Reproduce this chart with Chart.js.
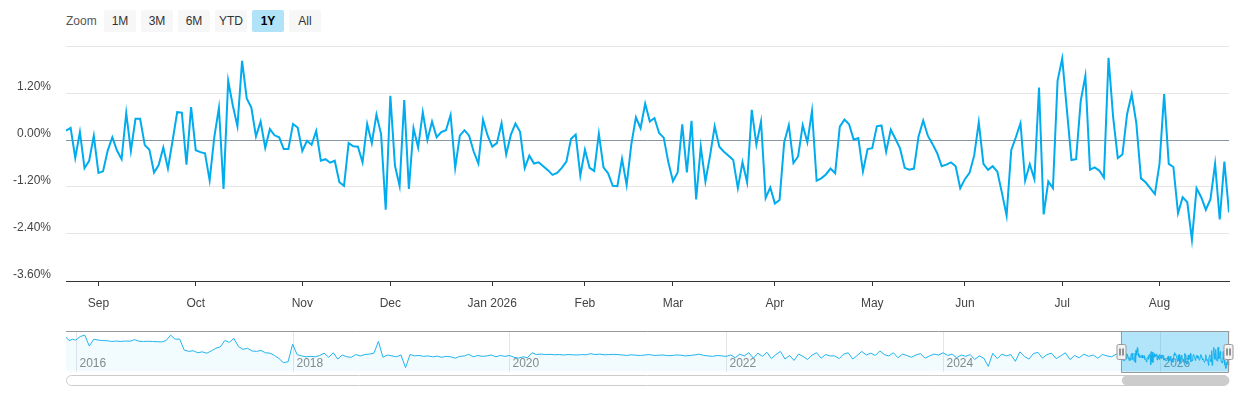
<!DOCTYPE html>
<html>
<head>
<meta charset="utf-8">
<script src="https://cdn.jsdelivr.net/npm/chart.js@4.4.1/dist/chart.umd.min.js"></script>
<style>
  body { margin: 0; background: #fff; font-family: 'Liberation Sans', Arial, sans-serif; }
  #wrap { position: relative; width: 1240px; height: 400px; overflow: hidden; }
  #mainChart { position: absolute; left: 0; top: 0; }
  #navChart { position: absolute; left: 60px; top: 325px; }
  .zoomLabel { position: absolute; left: 66px; top: 10px; line-height: 22px; font-size: 12px; color: #555; }
  .btn { position: absolute; top: 10px; width: 32px; height: 22px; line-height: 22px; text-align: center;
         font-size: 12px; color: #333; background: #f7f7f7; border-radius: 2px; }
  .btn.active { background: #b0e3f8; font-weight: bold; color: #000; }
</style>
</head>
<body>
<div id="wrap">
  <div class="zoomLabel">Zoom</div>
  <div class="btn" style="left:104px">1M</div>
  <div class="btn" style="left:141px">3M</div>
  <div class="btn" style="left:178px">6M</div>
  <div class="btn" style="left:215px">YTD</div>
  <div class="btn active" style="left:252px">1Y</div>
  <div class="btn" style="left:289px">All</div>
  <canvas id="mainChart" width="1240" height="320"></canvas>
  <canvas id="navChart" width="1180" height="65"></canvas>
</div>
<script>
// daily values (%), one array per month
const aug25 = [0.24, 0.31, -0.46, 0.20, -0.72, -0.53, 0.11];
const sep25 = [-0.84, -0.80, -0.27, 0.07, -0.27, -0.49, 0.69, -0.28, 0.54, 0.54, -0.13, -0.25, -0.83, -0.64, -0.19, -0.73, -0.02, 0.71, 0.70, -0.63, 0.84];
const oct25 = [-0.26, -0.31, -0.34, -1.03, 0.07, 0.82, -1.25, 1.51, 0.88, 0.35, 2.02, 1.06, 0.83, 0.09, 0.47, -0.20, 0.28, 0.12, 0.07, -0.23, -0.23, 0.41, 0.32];
const nov25 = [-0.28, -0.02, -0.12, 0.23, -0.53, -0.49, -0.58, -0.53, -1.08, -1.17, -0.08, -0.16, -0.17, -0.57, 0.41, -0.08, 0.65, 0.15, -1.78];
const dec25 = [1.13, -0.66, -1.17, 1.02, -1.25, 0.30, -0.19, 0.71, 0.00, 0.47, 0.07, 0.20, 0.25, 0.64, -0.71, 0.11, 0.25, 0.11, -0.30, -0.60, 0.52, 0.11];
const jan26 = [-0.17, -0.08, 0.43, -0.37, 0.13, 0.42, 0.21, -0.72, -0.40, -0.60, -0.57, -0.67, -0.77, -0.89, -0.84, -0.71, -0.55, 0.03, 0.14, -0.91];
const feb26 = [-0.25, -0.71, -0.79, 0.16, -0.70, -0.85, -1.17, -1.18, -0.48, -1.15, -0.12, 0.58, 0.30, 0.93, 0.47, 0.56, 0.18, 0.06, -0.57];
const mar26 = [-1.05, -0.83, 0.40, -0.83, 0.49, -1.52, -0.17, -1.06, -0.40, 0.35, -0.17, -0.30, -0.40, -0.51, -1.23, -0.57, -1.08, 0.77, -0.12, 0.47, -1.48, -1.21];
const apr26 = [-1.62, -1.53, -0.06, 0.38, -0.59, -0.42, 0.38, -0.06, 0.74, -1.04, -0.98, -0.88, -0.73, -0.85, 0.34, 0.52, 0.40, 0.01, 0.05, -0.80, -0.23];
const may26 = [-0.21, 0.35, 0.37, -0.30, 0.26, 0.03, -0.21, -0.71, -0.76, -0.73, 0.09, 0.50, 0.11, -0.10, -0.33, -0.67, -0.63, -0.57, -0.67, -1.23];
const jun26 = [-1.00, -0.84, -0.40, 0.45, -0.61, -0.76, -0.67, -0.81, -1.35, -1.93, -0.26, 0.07, 0.43, -1.04, -0.62, -1.00, 1.34, -1.90, -1.06, -1.23, 1.51];
const jul26 = [2.08, 0.79, -0.51, -0.49, 1.00, 1.64, -0.76, -0.70, -0.78, -0.96, 2.10, 0.58, -0.46, -0.37, 0.66, 1.17, 0.43, -0.98, -1.08, -1.23, -1.38];
const aug26 = [-0.61, 1.17, -0.61, -0.69, -1.87, -1.46, -1.59, -2.55, -1.23, -1.46, -1.78, -1.51, -0.61, -2.03, -0.55, -1.85];

const months = [aug25, sep25, oct25, nov25, dec25, jan26, feb26, mar26, apr26, may26, jun26, jul26, aug26];
const monthLabels = ['', 'Sep', 'Oct', 'Nov', 'Dec', 'Jan 2026', 'Feb', 'Mar', 'Apr', 'May', 'Jun', 'Jul', 'Aug'];
const yTickValues = [-3.6, -2.4, -1.2, 0, 1.2, 2.4];

// navigator: long history, roughly two readings per month
const nav2015 = [4.3, 3.6, 3.9];
const nav2016 = [3.7, 4.5, 4.8, 2.4, 3.9, 3.7, 3.6, 3.55, 3.4, 3.5, 3.4, 3.5, 3.45, 3.8, 3.45, 3.4, 3.45, 3.4, 3.35, 3.3, 3.6, 4.8, 3.9, 3.95];
const nav2017 = [1.5, 1.2, 1.35, 0.9, 1.1, 0.8, 1.3, 1.9, 2.2, 3.6, 3.2, 4.1, 2.3, 1.65, 1.9, 1.3, 1.2, 1.4, 0.9, 0.8, 0.3, -0.4, -1.3, -1.1];
const nav2018 = [2.8, 0.5, 0.2, 0.0, 0.1, 0.0, 0.3, 0.8, -0.1, 0.9, -0.5, 0.4, 0.0, -0.1, 0.5, 0.2, 0.5, 0.6, 0.8, 3.4, -0.1, 0.4, 0.2, 0.0];
const nav2019 = [0.4, -2.4, 0.5, 0.2, 0.3, 0.1, 0.2, 0.0, 0.15, -0.1, 0.1, 0.0, -0.3, 0.1, 0.2, 0.55, 0.0, 0.3, 0.1, 0.2, 0.4, 0.0, 0.3, 0.1];
const nav2020 = [0.3, -0.1, -0.3, 0.0, -0.2, 0.9, 0.5, 0.6, 0.5, 0.55, 0.45, 0.5, 0.4, 0.5, 0.45, 0.4, 0.5, 0.45, 0.7, 0.5, 0.6, 0.45, 0.5, 0.55];
const nav2021 = [0.5, 0.4, 0.3, 0.45, 0.35, 0.3, 0.4, 0.5, 0.3, 0.35, 0.4, 0.25, 0.3, 0.4, 0.35, 0.2, 0.3, 0.4, 0.6, 0.3, 0.2, 0.1, 0.3, 0.2];
const nav2022 = [0.1, 0.4, -0.2, 0.6, 0.2, 0.9, -0.3, 0.8, 0.1, 1.0, -0.4, 0.5, 1.2, -0.5, 0.3, -0.8, 0.6, 0.1, -0.6, 0.4, 0.9, -0.3, 0.5, 0.2];
const nav2023 = [0.2, -0.4, 0.6, 0.9, -0.5, 0.3, 1.2, 0.4, 0.8, 0.3, 1.3, 0.5, 0.2, 0.9, -0.2, 0.6, 0.3, -0.1, 0.4, 0.7, -0.3, 0.2, 0.6, 0.4];
const nav2024 = [0.9, 0.3, 0.6, -0.2, 0.4, 0.1, 0.5, -0.6, 0.2, -0.3, -2.1, 0.8, -0.4, 0.6, 0.2, 0.5, -1.0, 1.1, 0.1, -0.5, 0.7, 1.0, -0.3, 0.5];
const nav2025 = [0.8, -0.4, 0.2, 0.9, -0.6, 0.3, -0.2, 0.6, 0.1, 0.4, -0.3, 0.5, 0.2, 0.0, 0.6];
const navYearLabels = [2016, 2018, 2020, 2022, 2024, 2026];
const navStart = 2015.91, selStart = 2025.64, navEnd = 2026.64;

const FONT = "'Liberation Sans', Arial, sans-serif";

// ---- main chart
const values = months.flat();
const tickIdx = [];
const tickText = {};
let pos = 0;
months.forEach((m, i) => {
  if (monthLabels[i]) { tickIdx.push(pos); tickText[pos] = monthLabels[i]; }
  pos += m.length;
});
const points = values.map((v, i) => ({ x: i, y: v }));

new Chart(document.getElementById('mainChart'), {
  type: 'line',
  data: { datasets: [{ data: points, borderColor: '#00abee', borderWidth: 2, pointRadius: 0, tension: 0, fill: false }] },
  options: {
    responsive: false, animation: false, events: [],
    layout: { padding: { top: 46, right: 11, bottom: 0, left: 0 } },
    plugins: { legend: { display: false }, tooltip: { enabled: false } },
    scales: {
      x: {
        type: 'linear', min: 0, max: values.length - 1,
        afterBuildTicks: s => { s.ticks = tickIdx.map(v => ({ value: v })); },
        afterFit: s => { s.height = 39; },
        ticks: { autoSkip: false, maxRotation: 0, padding: 10, color: '#444', font: { family: FONT, size: 12 },
                 callback: v => tickText[v] || '' },
        grid: { drawOnChartArea: false, tickLength: 5, color: '#333' },
        border: { color: '#333', width: 1 }
      },
      y: {
        min: -3.6, max: 2.4,
        afterBuildTicks: s => { s.ticks = yTickValues.map(v => ({ value: v })); },
        afterFit: s => { s.width = 66; },
        ticks: { padding: 15, labelOffset: -6, color: '#444', font: { family: FONT, size: 12 },
                 callback: v => v === 2.4 ? '' : v.toFixed(2) + '%' },
        grid: { drawTicks: false, color: c => c.tick.value === 0 ? '#8a97a3' : '#e6e6e6' },
        border: { display: false }
      }
    }
  }
});

// ---- navigator
const navSegments = [
  [navStart, 2016, nav2015], [2016, 2017, nav2016], [2017, 2018, nav2017], [2018, 2019, nav2018],
  [2019, 2020, nav2019], [2020, 2021, nav2020], [2021, 2022, nav2021], [2022, 2023, nav2022],
  [2023, 2024, nav2023], [2024, 2025, nav2024], [2025, selStart, nav2025]
];
const navPoints = [];
navSegments.forEach(([a, b, arr]) => arr.forEach((v, i) => navPoints.push({ x: a + (b - a) * i / arr.length, y: v })));
values.forEach((v, i) => navPoints.push({ x: selStart + (navEnd - selStart) * i / (values.length - 1), y: v }));

const navDecor = {
  id: 'navDecor',
  beforeDatasetsDraw(chart) {
    const { ctx, chartArea: a, scales: { x } } = chart;
    ctx.save();
    ctx.strokeStyle = '#e6e6e6'; ctx.lineWidth = 1;
    ctx.fillStyle = '#888'; ctx.font = '12px ' + FONT; ctx.textBaseline = 'middle';
    navYearLabels.forEach(yr => {
      const px = Math.round(x.getPixelForValue(yr)) + 0.5;
      ctx.beginPath(); ctx.moveTo(px, a.top); ctx.lineTo(px, a.bottom); ctx.stroke();
      ctx.fillText(String(yr), px + 3, a.top + 32.5);
    });
    ctx.restore();
  },
  afterDatasetsDraw(chart) {
    const { ctx, chartArea: a, scales: { x } } = chart;
    const l = x.getPixelForValue(selStart), r = x.getPixelForValue(navEnd);
    ctx.save();
    ctx.fillStyle = 'rgba(0,170,238,0.3)';
    ctx.fillRect(l, a.top, r - l, a.bottom - a.top);
    ctx.strokeStyle = '#999'; ctx.lineWidth = 1;
    const t = Math.round(a.top) + 0.5, b = Math.round(a.bottom) + 0.5;
    const lx = Math.round(l) + 0.5, rx = Math.round(r) - 0.5;
    ctx.beginPath();
    ctx.moveTo(a.left, t); ctx.lineTo(a.right, t);
    ctx.moveTo(lx, t); ctx.lineTo(lx, b); ctx.lineTo(rx, b); ctx.lineTo(rx, t);
    ctx.stroke();
    // handles
    [lx, rx].forEach(hx => {
      ctx.fillStyle = '#f2f2f2';
      ctx.beginPath(); ctx.roundRect(hx - 4.5, 19.5, 9, 15, 1.5); ctx.fill(); ctx.stroke();
      ctx.strokeStyle = '#333';
      ctx.beginPath();
      ctx.moveTo(hx - 1.5, 23.5); ctx.lineTo(hx - 1.5, 30.5);
      ctx.moveTo(hx + 1.5, 23.5); ctx.lineTo(hx + 1.5, 30.5);
      ctx.stroke();
      ctx.strokeStyle = '#999';
    });
    // scrollbar
    ctx.strokeStyle = '#cccccc'; ctx.fillStyle = '#fff';
    ctx.beginPath(); ctx.roundRect(a.left + 0.5, 50.5, a.right - a.left - 1, 10, 5); ctx.fill(); ctx.stroke();
    ctx.fillStyle = '#cccccc';
    ctx.beginPath(); ctx.roundRect(l + 1, 50.5, r - l - 1, 10, 5); ctx.fill();
    ctx.restore();
  }
};

new Chart(document.getElementById('navChart'), {
  type: 'line',
  data: { datasets: [{ data: navPoints, borderColor: '#22b4ee', borderWidth: 1, pointRadius: 0, tension: 0,
                       fill: 'start', backgroundColor: 'rgba(0,170,238,0.05)' }] },
  options: {
    responsive: false, animation: false, events: [],
    layout: { padding: { left: 6, right: 10.7, top: 6.3, bottom: 18.3 } },
    plugins: { legend: { display: false }, tooltip: { enabled: false } },
    scales: {
      x: { type: 'linear', display: false, min: navStart, max: navEnd },
      y: { display: false, min: -3.3, max: 5.65 }
    }
  },
  plugins: [navDecor]
});
</script>
</body>
</html>
